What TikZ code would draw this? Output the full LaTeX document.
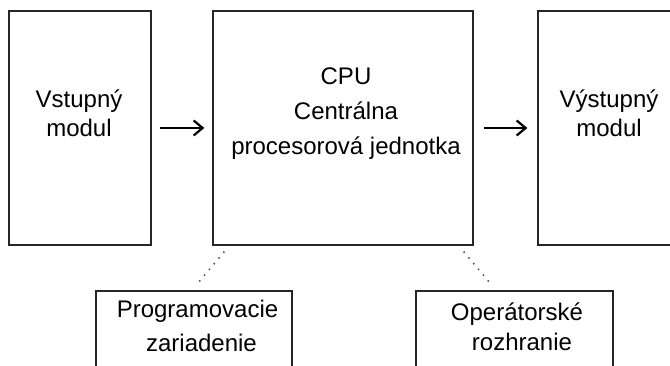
\documentclass[tikz,border=0pt]{standalone}
\usepackage{fontspec}
\setmainfont{Liberation Sans}
\usetikzlibrary{arrows.meta,calc}
\begin{document}
\begin{tikzpicture}[x=1pt,y=-1pt,
  box/.style={draw=black!85,line width=1.3pt,rectangle,inner sep=0pt},
  txt/.style={anchor=base,inner sep=0pt,font=\fontsize{24}{28}\selectfont},
  flow/.style={line width=2.2pt,-{Straight Barb[length=9pt,width=15pt]},shorten <=8pt,shorten >=8pt},
  link/.style={draw=black!70,line width=1.5pt,dash pattern=on 1.5pt off 6pt}]
\useasboundingbox (0,0) rectangle (670,366);
\clip (0,0) rectangle (670,366);
% boxes
\node[box,minimum width=142pt,minimum height=234pt] (in) at (80,128) {};
\node[box,minimum width=260pt,minimum height=234pt] (cpu) at (343,128) {};
\node[box,minimum width=142pt,minimum height=234pt] (out) at (609,128) {};
\node[box,minimum width=196pt,minimum height=100pt] (prog) at (194,341) {};
\node[box,minimum width=197pt,minimum height=100pt] (op) at (514.5,341) {};
% texts
\node[txt] (in1) at (79,108) {Vstupný};
\node[txt] (in2) at (79,137) {modul};
\node[txt] (cpu1) at (346,85) {CPU};
\node[txt] (cpu2) at (346,120) {Centrálna};
\node[txt] (cpu3) at (346,155) {procesorová jednotka};
\node[txt] (out1) at (609,108) {Výstupný};
\node[txt] (out2) at (609,137) {modul};
\node[txt] (prog1) at (197.5,318) {Programovacie};
\node[txt] (prog2) at (201.5,352) {zariadenie};
\node[txt] (op1) at (517,321) {Operátorské};
\node[txt] (op2) at (522,351) {rozhranie};
% arrows
\draw[flow] (in) -- (cpu);
\draw[flow,shorten <=10pt,shorten >=10pt] (cpu) -- (out);
% dotted links
\coordinate (l1a) at ($(cpu.south west)+(12,6)$);
\coordinate (l1b) at ($(prog.north)+(2,-5)$);
\coordinate (l2a) at ($(cpu.south east)+(-10,6)$);
\coordinate (l2b) at ($(op.north)+(-22.5,-5)$);
\draw[link] (l1a) -- (l1b);
\draw[link] (l2a) -- (l2b);
\end{tikzpicture}
\end{document}
